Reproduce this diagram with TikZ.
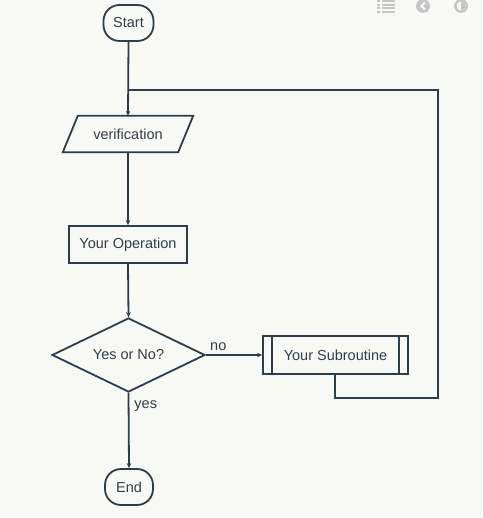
\documentclass[tikz,border=0pt]{standalone}
\usepackage{fontspec}
\setmainfont{Liberation Sans}
\usetikzlibrary{arrows.meta,shapes.geometric,calc}
\definecolor{bg}{HTML}{F8F8F5}
\definecolor{ln}{HTML}{2E3D4C}
\definecolor{txt}{HTML}{333D47}
\definecolor{icon}{HTML}{C4C6C8}
\begin{document}
\begin{tikzpicture}[x=1pt,y=-1pt,
  every node/.style={font=\fontsize{14.5}{16}\selectfont,text=txt},
  shp/.style={draw=ln,line width=1.8pt,fill=bg},
  conn/.style={draw=ln,line width=1.8pt},
  arr/.style={conn,-{Stealth[length=5pt,width=4.5pt]}},
  lbl/.style={inner sep=0pt}]
\fill[bg] (0,0) rectangle (482,518);
\useasboundingbox (0,0) rectangle (482,518);
% toolbar icons
\foreach \yy in {1.5,5,8.5,12} {
  \draw[icon,line width=2pt] (377,\yy) -- (380,\yy);
  \draw[icon,line width=2pt] (382,\yy) -- (395,\yy);}
\fill[icon] (423,6) circle (7);
\draw[bg,line width=1.8pt] (425,2.5) -- (421.5,6) -- (425,9.5);
\fill[icon] (461,6) circle (7);
\fill[bg] (461,6) circle (4.5);
\fill[icon] (461,6) ++(0,-4.5) arc[start angle=-90,end angle=90,radius=4.5] -- cycle;
% nodes
\node[shp,rounded corners=16pt,minimum width=50,minimum height=36] (start) at (128.5,23) {Start};
\node[minimum width=130,minimum height=36,inner sep=0pt] (ver) at (128,134) {verification};
\draw[shp] ($(ver.north west)+(15,0)$) -- (ver.north east) -- ($(ver.south east)+(-15,0)$) -- (ver.south west) -- cycle;
\node at (ver) {verification};
\node[shp,minimum width=118,minimum height=37] (op) at (128,244.5) {Your Operation};
\node[shp,diamond,aspect=2.07,minimum width=153,minimum height=74,inner sep=0pt] (dec) at (128.5,355) {Yes or No?};
\node[shp,minimum width=145,minimum height=38] (sub) at (335.5,355) {Your Subroutine};
\draw[conn] ($(sub.north west)+(10,0)$) -- ($(sub.south west)+(10,0)$);
\draw[conn] ($(sub.north east)+(-10,0)$) -- ($(sub.south east)+(-10,0)$);
\node[shp,rounded corners=16pt,minimum width=48,minimum height=36] (end) at (129,487) {End};
% loop corner coordinates
\coordinate (j) at (128,90);
\coordinate (c1) at (438,90);
\coordinate (c2) at (438,398);
\coordinate (c3) at (335,398);
% connectors
\draw[arr] (start.south) -- (ver.north);
\draw[arr] (ver.south) -- (op.north);
\draw[arr] (op.south) -- (dec.north);
\draw[arr] (dec.east) -- node[lbl,above,pos=0.22,yshift=3pt] {no} (sub.west);
\draw[arr] (dec.south) -- node[lbl,right,pos=0.17,xshift=5pt] {yes} (end.north);
\draw[conn] (c3 |- sub.south) -- (c3) -- (c2) -- (c1) -- (j);
\end{tikzpicture}
\end{document}
